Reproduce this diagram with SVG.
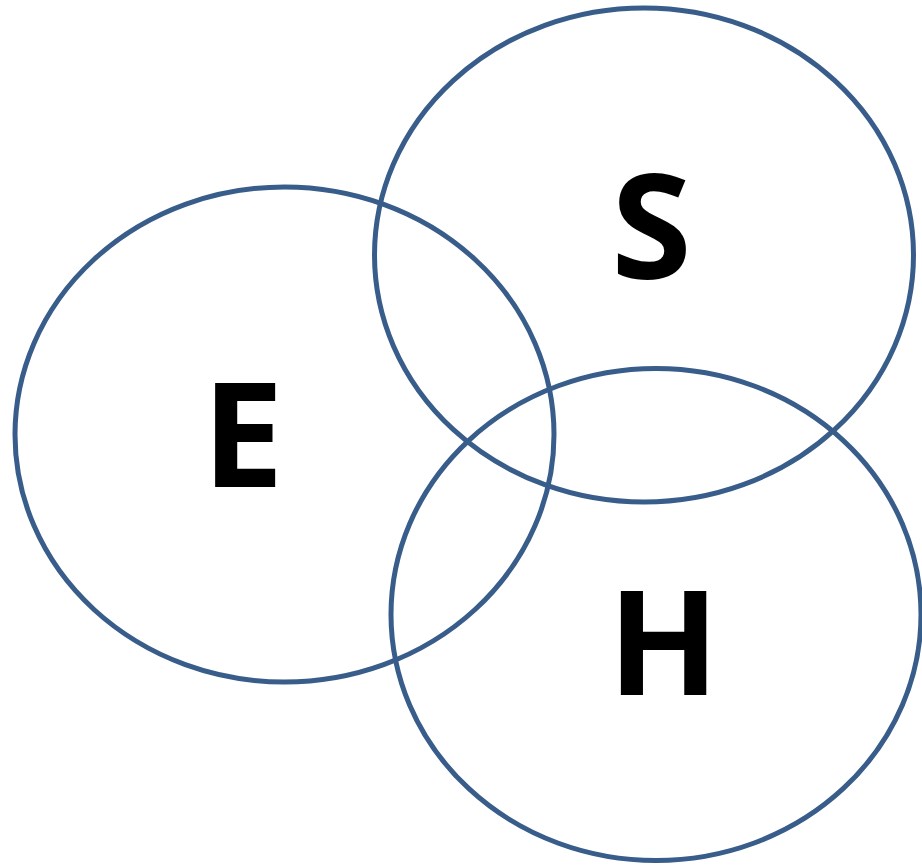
<svg xmlns="http://www.w3.org/2000/svg" width="922" height="865" viewBox="0 0 922 865">
<style>
.c{fill:none;stroke:#385D8A;stroke-width:5}
.t{font-family:"Open Sans","Noto Sans","DejaVu Sans",sans-serif;font-weight:bold;font-size:146px;fill:#000;text-anchor:middle}
</style>
<rect width="922" height="865" fill="#fff"/>
<g id="E"><ellipse class="c" cx="284.5" cy="434.5" rx="269.5" ry="247.5"/><text class="t" x="243" y="487">E</text></g>
<g id="S"><ellipse class="c" cx="644" cy="255" rx="269.5" ry="247"/><text class="t" x="651.5" y="279">S</text></g>
<g id="H"><ellipse class="c" cx="656" cy="614.5" rx="265" ry="246"/><text class="t" x="663.5" y="695">H</text></g>
<g id="connectors"/>
</svg>
